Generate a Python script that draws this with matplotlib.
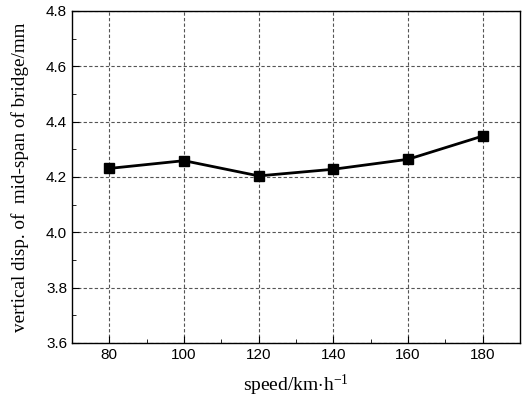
import matplotlib
matplotlib.use("Agg")
import matplotlib.pyplot as plt
from matplotlib.ticker import MultipleLocator, FormatStrFormatter

plt.rcParams['font.family'] = ['Liberation Sans', 'DejaVu Sans']
plt.rcParams['mathtext.fontset'] = 'custom'
plt.rcParams['mathtext.rm'] = 'Liberation Serif'
plt.rcParams['mathtext.it'] = 'Liberation Serif:italic'

speeds = [80, 100, 120, 140, 160, 180]
disp = [4.231, 4.259, 4.204, 4.228, 4.264, 4.348]

fig = plt.figure(figsize=(5.24, 4.0), dpi=100)
ax = fig.add_axes([72/524, 1-343/400, (520-72)/524, (343-11)/400])
ax.plot(speeds, disp, color='black', lw=2, marker='s', ms=7.5, zorder=3)
ax.set_xlim(70, 190)
ax.set_ylim(3.6, 4.8)
ax.xaxis.set_major_locator(MultipleLocator(20))
ax.xaxis.set_minor_locator(MultipleLocator(10))
ax.yaxis.set_major_locator(MultipleLocator(0.2))
ax.yaxis.set_minor_locator(MultipleLocator(0.1))
ax.yaxis.set_major_formatter(FormatStrFormatter('%.1f'))
ax.tick_params(which='both', direction='in', top=False, right=False, labelsize=11)
ax.tick_params(which='major', length=5)
ax.tick_params(which='minor', length=3)
ax.grid(True, which='major', linestyle=(0, (3, 2)), color='#555555', lw=0.8)
for s in ax.spines.values():
    s.set_linewidth(1.0)
ax.set_xlabel('speed/km$\\cdot$h$^{\\mathrm{-1}}$', family='Liberation Serif', fontsize=14, labelpad=8)
ax.set_ylabel('vertical disp. of  mid-span of bridge/mm', family='Liberation Serif', fontsize=13.8, labelpad=12)
fig.savefig('out.png', dpi=100)
